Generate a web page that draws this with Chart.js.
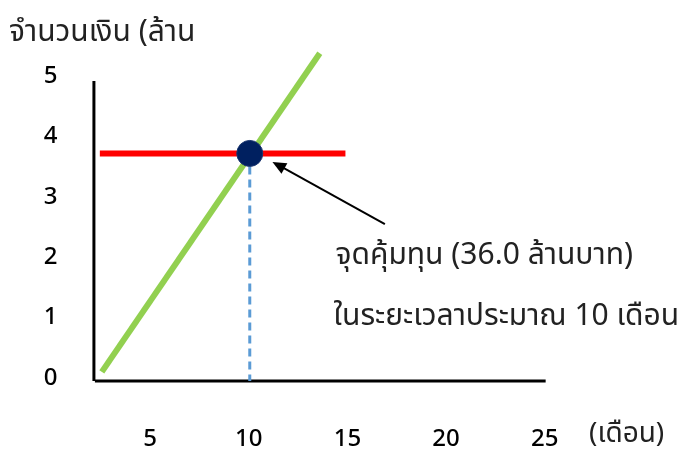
<!DOCTYPE html>
<html>
<head>
<meta charset="utf-8">
<script src="https://cdn.jsdelivr.net/npm/chart.js@4.4.0/dist/chart.umd.min.js"></script>
<style>
    html, body { margin: 0; padding: 0; background: #fff; }
    #wrap { width: 685px; height: 450px; }
</style>
</head>
<body>
<div id="wrap"><canvas id="breakEvenChart" width="685" height="450"></canvas></div>
<script>
// values (x = months, y = money)
const xTicks = [5, 10, 15, 20, 25];
const yTicks = [0, 1, 2, 3, 4, 5];
const revenueLine = [{x: 2.55, y: 0.1}, {x: 13.6, y: 5.38}];
const costLine = [{x: 2.45, y: 3.72}, {x: 14.9, y: 3.72}];
const breakEvenPoint = [{x: 10.05, y: 3.72}];
const dropLine = [{x: 10.05, y: 3.72}, {x: 10.05, y: -0.05}];
const xAxisLine = [{x: 2.2, y: -0.05}, {x: 25.05, y: -0.05}];
const yAxisLine = [{x: 2.15, y: 4.92}, {x: 2.15, y: -0.05}];
const arrowFrom = {x: 16.9, y: 2.55};
const arrowTo = {x: 11.2, y: 3.58};
const noteLines = ['จุดคุ้มทุน (36.0 ล้านบาท)', 'ในระยะเวลาประมาณ 10 เดือน'];
const noteAt = [{x: 14.4, y: 1.98}, {x: 14.3, y: 0.98}];
const yTitle = 'จำนวนเงิน (ล้าน';
const xTitle = '(เดือน)';

const thaiFont = "'Noto Sans Thai', 'Noto Sans', sans-serif";

document.addEventListener('DOMContentLoaded', function () {
    const ctx = document.getElementById('breakEvenChart').getContext('2d');

    const notesPlugin = {
        id: 'notes',
        afterDatasetsDraw: function (chart) {
            const c = chart.ctx;
            const xs = chart.scales.x;
            const ys = chart.scales.y;

            // arrow pointing at the break-even dot
            const x1 = xs.getPixelForValue(arrowFrom.x), y1 = ys.getPixelForValue(arrowFrom.y);
            const x2 = xs.getPixelForValue(arrowTo.x), y2 = ys.getPixelForValue(arrowTo.y);
            const ang = Math.atan2(y2 - y1, x2 - x1);
            const head = 15;
            c.save();
            c.strokeStyle = '#000';
            c.fillStyle = '#000';
            c.lineWidth = 2;
            c.beginPath();
            c.moveTo(x1, y1);
            c.lineTo(x2 - Math.cos(ang) * head * 0.8, y2 - Math.sin(ang) * head * 0.8);
            c.stroke();
            c.beginPath();
            c.moveTo(x2, y2);
            c.lineTo(x2 - head * Math.cos(ang - 0.42), y2 - head * Math.sin(ang - 0.42));
            c.lineTo(x2 - head * Math.cos(ang + 0.42), y2 - head * Math.sin(ang + 0.42));
            c.closePath();
            c.fill();

            c.font = '30px ' + thaiFont;
            c.textBaseline = 'middle';
            c.textAlign = 'left';
            c.fillStyle = '#222';
            noteLines.forEach(function (t, i) {
                c.fillText(t, xs.getPixelForValue(noteAt[i].x), ys.getPixelForValue(noteAt[i].y));
            });

            // axis titles
            c.fillText(yTitle, 9, 35);
            c.font = '28px ' + thaiFont;
            c.fillText(xTitle, 589, 436);
            c.restore();
        }
    };

    const chart = new Chart(ctx, {
        type: 'scatter',
        data: {
            datasets: [{
                label: 'Break-even',
                data: breakEvenPoint,
                pointRadius: 13,
                backgroundColor: '#002060',
                borderColor: '#1b3670',
                borderWidth: 1,
                order: 0
            },
                {
                    label: 'Revenue',
                    data: revenueLine,
                    showLine: true,
                    borderColor: '#92D050',
                    borderWidth: 6,
                    pointRadius: 0,
                    order: 1
                },
                {
                    label: 'Cost',
                    data: costLine,
                    showLine: true,
                    borderColor: '#FF0000',
                    borderWidth: 6,
                    pointRadius: 0,
                    order: 2
                },
                {
                    label: 'Drop',
                    data: dropLine,
                    showLine: true,
                    borderColor: '#5B9BD5',
                    borderWidth: 3,
                    borderDash: [8, 5],
                    pointRadius: 0,
                    order: 3
                },
                {
                    label: 'X axis',
                    data: xAxisLine,
                    showLine: true,
                    borderColor: '#000',
                    borderWidth: 3,
                    pointRadius: 0,
                    order: 4
                },
                {
                    label: 'Y axis',
                    data: yAxisLine,
                    showLine: true,
                    borderColor: '#000',
                    borderWidth: 3,
                    pointRadius: 0,
                    order: 4
                }]
        },
        options: {
            responsive: false,
            animation: false,
            layout: {
                padding: { left: 0, right: 20, top: 40, bottom: 0 }
            },
            plugins: {
                legend: { display: false },
                tooltip: { enabled: false }
            },
            scales: {
                x: {
                    type: 'linear',
                    min: -0.5,
                    max: 31.1,
                    afterBuildTicks: function (s) { s.ticks = xTicks.map(v => ({ value: v })); },
                    afterFit: function (s) { s.height = 54; },
                    grid: { display: false, drawTicks: false },
                    border: { display: false },
                    ticks: {
                        padding: 29,
                        color: '#000',
                        font: { family: "'Noto Sans', sans-serif", size: 24, weight: '500' }
                    }
                },
                y: {
                    min: -0.3,
                    max: 5.6,
                    afterBuildTicks: function (s) { s.ticks = yTicks.map(v => ({ value: v })); },
                    afterFit: function (s) { s.width = 41.65; },
                    grid: { display: false, drawTicks: false },
                    border: { display: false },
                    ticks: {
                        mirror: true,
                        padding: 2,
                        color: '#000',
                        font: { family: "'Noto Sans', sans-serif", size: 24, weight: '500' }
                    }
                }
            }
        },
        plugins: [notesPlugin]
    });
});
</script>
</body>
</html>
